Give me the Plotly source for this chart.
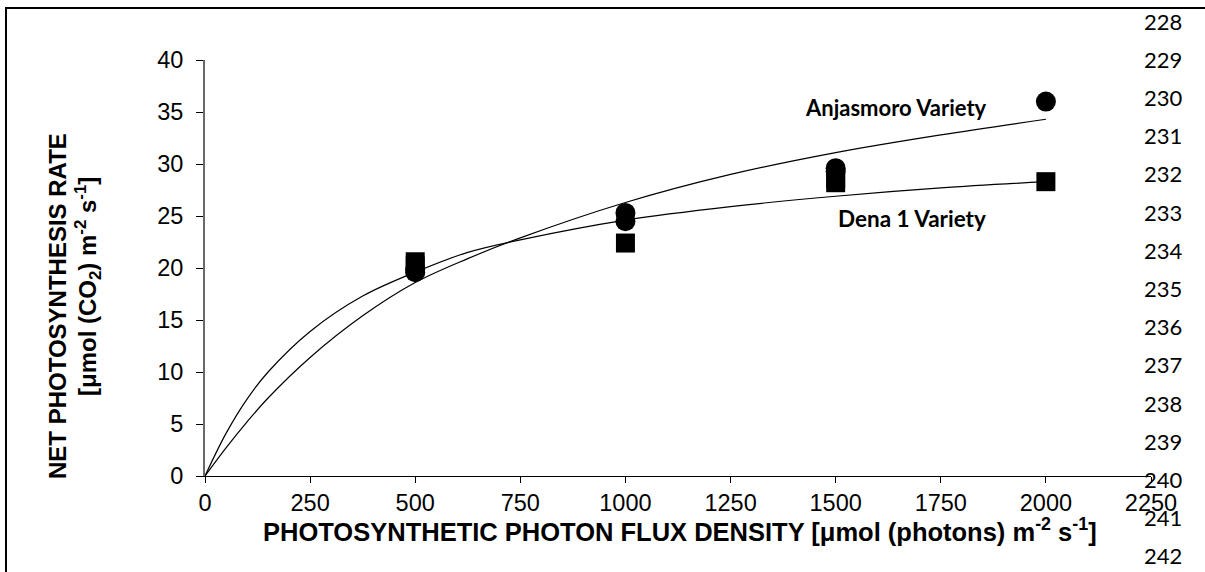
import plotly.graph_objects as go

# Measured net photosynthesis at each photon flux density (replicates)
ppfd_anjasmoro = [500, 500, 1000, 1000, 1500, 1500, 2000]
pn_anjasmoro = [19.6, 19.9, 24.5, 25.3, 29.3, 29.6, 36.0]

ppfd_dena = [500, 500, 1000, 1500, 1500, 2000]
pn_dena = [20.2, 20.6, 22.4, 28.2, 28.6, 28.3]

# Fitted light-response curves
curve_ppfd = [0, 50, 100, 150, 250, 375, 500, 625, 750, 1000, 1250, 1500, 1750, 2000]
curve_anjasmoro = [0, 2.7, 5.2, 7.5, 11.4, 15.4, 18.6, 20.9, 22.9, 26.3, 29.0, 31.1, 32.8, 34.3]
curve_dena = [0, 4.1, 7.4, 10.0, 13.9, 17.3, 19.6, 21.5, 22.7, 24.6, 25.9, 26.9, 27.7, 28.3]

x_ticks = [0, 250, 500, 750, 1000, 1250, 1500, 1750, 2000, 2250]
y_ticks = [0, 5, 10, 15, 20, 25, 30, 35, 40]

line_numbers = list(range(228, 243))

W, H = 1205, 572
L, R, T, B = 205, 1151, 60, 476


def px_x(px):
    return (px - L) / (R - L)


def px_y(py):
    return (B - py) / (B - T)


fig = go.Figure()

fig.add_trace(go.Scatter(x=curve_ppfd, y=curve_anjasmoro, mode="lines",
                         line=dict(color="black", width=1.2, shape="spline"),
                         showlegend=False, hoverinfo="skip"))
fig.add_trace(go.Scatter(x=curve_ppfd, y=curve_dena, mode="lines",
                         line=dict(color="black", width=1.2, shape="spline"),
                         showlegend=False, hoverinfo="skip"))
fig.add_trace(go.Scatter(x=ppfd_dena, y=pn_dena, mode="markers",
                         marker=dict(symbol="square", size=19, color="black"),
                         showlegend=False))
fig.add_trace(go.Scatter(x=ppfd_anjasmoro, y=pn_anjasmoro, mode="markers",
                         marker=dict(symbol="circle", size=20, color="black"),
                         showlegend=False))

tick_font = dict(family="Liberation Sans, Arial", size=23.5, color="black")
title_font = dict(family="Liberation Sans, Arial", size=24, color="black")

annotations = [
    dict(text="<b>PHOTOSYNTHETIC PHOTON FLUX DENSITY [μmol (photons) m<sup>-2</sup> s<sup>-1</sup>]</b>",
         x=px_x(680), y=px_y(530), xref="paper", yref="paper",
         xanchor="center", yanchor="middle", showarrow=False,
         font=dict(family="Liberation Sans, Arial", size=25.5, color="black")),
    dict(text="<b>NET PHOTOSYNTHESIS RATE</b>",
         x=px_x(57), y=px_y(306), xref="paper", yref="paper", textangle=-90,
         xanchor="center", yanchor="middle", showarrow=False, font=title_font),
    dict(text="<b>[μmol (CO<sub>2</sub>) m<sup>-2</sup> s<sup>-1</sup>]</b>",
         x=px_x(88), y=px_y(287), xref="paper", yref="paper", textangle=-90,
         xanchor="center", yanchor="middle", showarrow=False, font=title_font),
    dict(text="<b>Anjasmoro Variety</b>",
         x=px_x(896), y=px_y(107), xref="paper", yref="paper",
         xanchor="center", yanchor="middle", showarrow=False,
         font=dict(family="Lato", size=22, color="black")),
    dict(text="<b>Dena 1 Variety</b>",
         x=px_x(912), y=px_y(218), xref="paper", yref="paper",
         xanchor="center", yanchor="middle", showarrow=False,
         font=dict(family="Lato", size=22.5, color="black")),
]

# Manuscript line numbers down the right margin
for i, n in enumerate(line_numbers):
    annotations.append(dict(text=str(n), x=px_x(1163), y=px_y(21 + i * 38.2),
                            xref="paper", yref="paper", xanchor="center",
                            yanchor="middle", showarrow=False,
                            font=dict(family="Lato", size=22, color="black")))

fig.update_layout(
    width=W, height=H,
    margin=dict(l=L, r=W - R, t=T, b=H - B, pad=0),
    paper_bgcolor="white", plot_bgcolor="white",
    annotations=annotations,
    shapes=[dict(type="rect", xref="paper", yref="paper",
                 x0=px_x(6), x1=px_x(1400), y0=px_y(800), y1=px_y(8),
                 line=dict(color="black", width=2), fillcolor="rgba(0,0,0,0)",
                 layer="below")],
)

fig.update_xaxes(range=[0, 2250], tickvals=x_ticks, ticks="outside", ticklen=6,
                 tickwidth=1, tickcolor="black", showline=True, linecolor="black",
                 linewidth=1, showgrid=False, zeroline=False, tickfont=tick_font,
                 ticklabelstandoff=0)
fig.update_yaxes(range=[0, 40], tickvals=y_ticks, ticks="outside", ticklen=7,
                 tickwidth=1.3, tickcolor="black", showline=True, linecolor="#6a6a6a",
                 linewidth=2, showgrid=False, zeroline=False, tickfont=tick_font,
                 ticklabelstandoff=8)

fig.write_html("out.html")
